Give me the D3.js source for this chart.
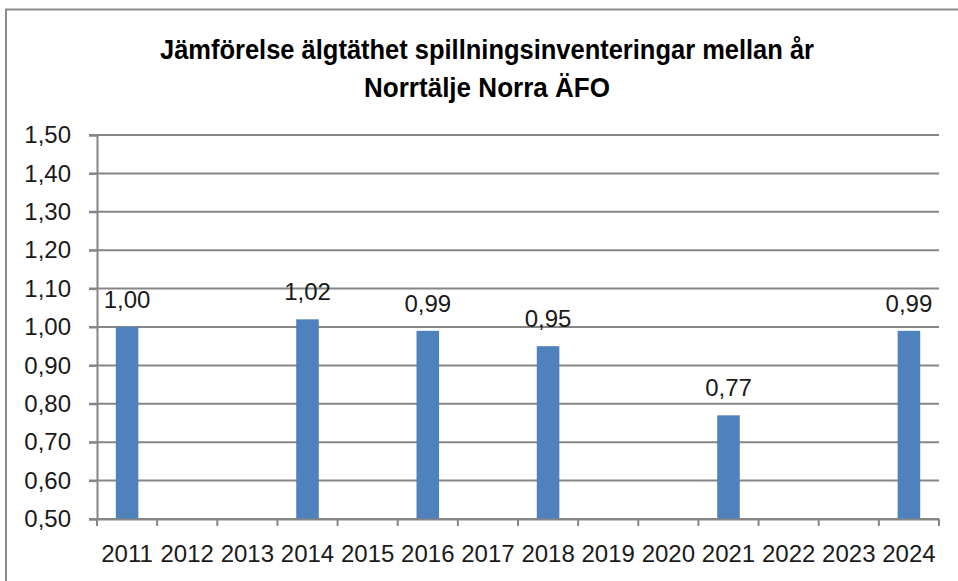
<!DOCTYPE html>
<html><head><meta charset="utf-8">
<script src="https://cdn.jsdelivr.net/npm/d3@7"></script>
<style>body{margin:0;background:#fff}svg{display:block}</style>
</head><body>
<script>
const titleLines = ["Jämförelse älgtäthet spillningsinventeringar mellan år", "Norrtälje Norra ÄFO"];
const years = ["2011","2012","2013","2014","2015","2016","2017","2018","2019","2020","2021","2022","2023","2024"];
const values = [1.00, null, null, 1.02, null, 0.99, null, 0.95, null, null, 0.77, null, null, 0.99];
const yTicks = [0.5,0.6,0.7,0.8,0.9,1.0,1.1,1.2,1.3,1.4,1.5];

const W = 958, H = 581;
const m = {left:97, right:939, top:135, bottom:519};
const svg = d3.select("body").append("svg").attr("width",W).attr("height",H);
svg.append("rect").attr("width",W).attr("height",H).attr("fill","#fff");
// outer chart border
svg.append("rect").attr("x",6).attr("y",9.5).attr("width",1000).attr("height",700)
  .attr("fill","none").attr("stroke","#8c8c8c").attr("stroke-width",2);

const fmt = v => d3.format(".2f")(v).replace(".", ",");
const x = d3.scaleBand().domain(years).range([m.left, m.right]).paddingInner(0).paddingOuter(0);
const y = d3.scaleLinear().domain([0.5,1.5]).range([m.bottom, m.top]);

const font = "'Liberation Sans', Arial, sans-serif";
const txt = "#1a1a1a";
// title
const tw = [654, 246];
titleLines.forEach((t,i)=>{
  svg.append("text").attr("x",487).attr("y",59+i*38).attr("text-anchor","middle")
    .attr("font-family",font).attr("font-weight","bold").attr("font-size",28)
    .attr("textLength",tw[i]).attr("lengthAdjust","spacingAndGlyphs")
    .attr("fill","#000").text(t);
});

// gridlines
svg.append("g").selectAll("line").data(yTicks).join("line")
  .attr("x1",m.left-8).attr("x2",m.right).attr("y1",d=>y(d)).attr("y2",d=>y(d))
  .attr("stroke","#868686").attr("stroke-width",2);

// y axis
const yAxis = svg.append("g").attr("transform",`translate(${m.left},0)`)
  .call(d3.axisLeft(y).tickValues(yTicks).tickFormat(fmt).tickSize(8).tickPadding(18));
yAxis.select(".domain").attr("stroke","#868686").attr("stroke-width",2);
yAxis.selectAll(".tick line").attr("stroke","#868686").attr("stroke-width",2);
yAxis.selectAll("text").attr("font-family",font).attr("font-size",24).attr("fill",txt);

// bars
const bw = x.bandwidth()*0.375;
const pts = years.map((yr,i)=>({yr,v:values[i]})).filter(d=>d.v!=null);
svg.append("g").selectAll("rect").data(pts).join("rect")
  .attr("x",d=>x(d.yr)+x.bandwidth()/2-bw/2).attr("width",bw)
  .attr("y",d=>y(d.v)).attr("height",d=>y(0.5)-y(d.v)).attr("fill","#4F81BD");

// x axis
const xAxis = svg.append("g").attr("transform",`translate(0,${m.bottom})`)
  .call(d3.axisBottom(x).tickSize(0).tickPadding(26));
xAxis.select(".domain").attr("stroke","#868686").attr("stroke-width",2);
xAxis.selectAll("text").attr("font-family",font).attr("font-size",24).attr("fill",txt);
// boundary ticks
const bounds = years.map(d=>x(d)).concat([m.right]);
xAxis.append("g").selectAll("line").data(bounds).join("line")
  .attr("x1",d=>d).attr("x2",d=>d).attr("y1",0).attr("y2",7)
  .attr("stroke","#868686").attr("stroke-width",2);

// data labels
svg.append("g").selectAll("text").data(pts).join("text")
  .attr("x",d=>x(d.yr)+x.bandwidth()/2).attr("y",d=>y(d.v)-19).attr("text-anchor","middle")
  .attr("font-family",font).attr("font-size",24).attr("fill",txt).text(d=>fmt(d.v));
</script>
</body></html>
